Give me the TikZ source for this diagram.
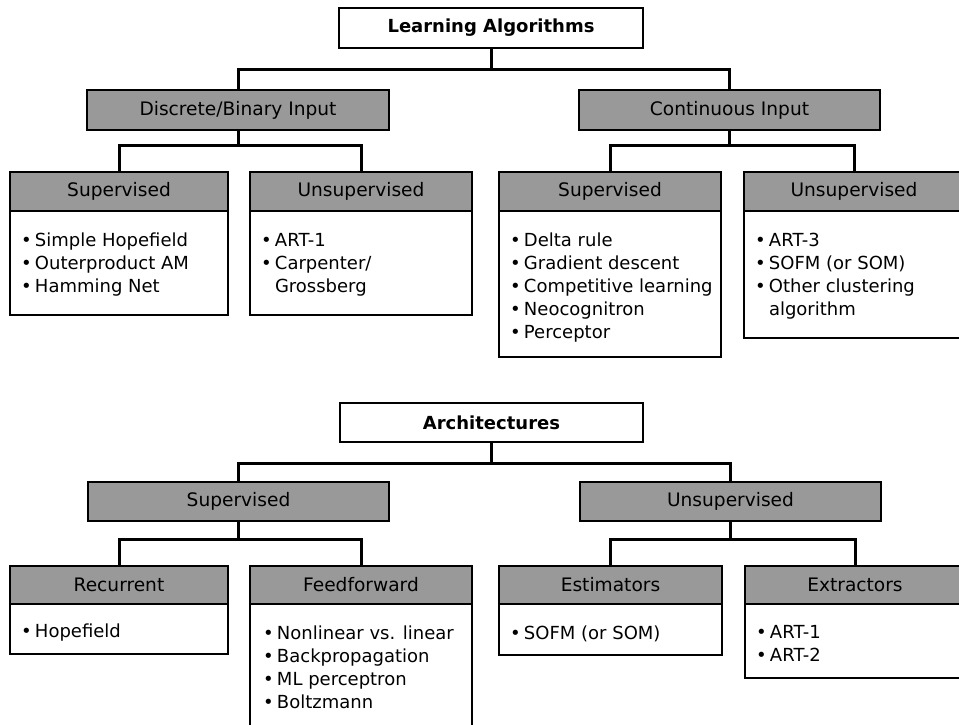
\documentclass[tikz,border=0pt]{standalone}
\usepackage{fontspec}
\setmainfont{DejaVu Sans}
\usetikzlibrary{calc}
\definecolor{hdrgray}{gray}{0.6}
\newcommand{\bulletmark}{\makebox[14pt][l]{\textbullet}}
\newcommand{\bulletgap}{\makebox[14pt][l]{}}
\newcommand{\itemlist}[1]{\begin{tabular}[t]{@{}l@{}}#1\end{tabular}}
\begin{document}
\begin{tikzpicture}[x=1pt,y=-1pt,
  every node/.style={inner sep=0pt, outer sep=0pt},
  txt/.style={font=\fontsize{18}{23}\selectfont},
  titlebox/.style={draw, line width=1.3pt, fill=white, minimum height=40pt,
    font=\fontsize{18}{23}\selectfont\bfseries},
  hdr/.style={draw, line width=1.4pt, fill=hdrgray, font=\fontsize{18.6}{23}\selectfont},
  body/.style={draw, line width=1.3pt, fill=white, anchor=north},
  items/.style={anchor=base west, txt},
  conn/.style={line width=3pt}]
\clip (0,0) rectangle (959,725);
\fill[white] (0,0) rectangle (959,725);

% ---------------- Learning algorithms ----------------
\node[titlebox, minimum width=304pt] (learn) at (491,28) {Learning Algorithms};
\node[hdr, minimum width=302pt, minimum height=40pt] (disc) at (238,110) {Discrete/Binary Input};
\node[hdr, minimum width=301pt, minimum height=40pt] (cont) at (729.5,110) {Continuous Input};

\node[hdr, minimum width=218pt, minimum height=39pt] (s1) at (119,191.5) {Supervised};
\node[hdr, minimum width=222pt, minimum height=39pt] (u1) at (361,191.5) {Unsupervised};
\node[hdr, minimum width=222pt, minimum height=39pt] (s2) at (610,191.5) {Supervised};
\node[hdr, minimum width=220pt, minimum height=39pt] (u2) at (854,191.5) {Unsupervised};

\node[body, minimum width=218pt, minimum height=104pt] (s1b) at (s1.south) {};
\node[body, minimum width=222pt, minimum height=104pt] (u1b) at (u1.south) {};
\node[body, minimum width=222pt, minimum height=146pt] (s2b) at (s2.south) {};
\node[body, minimum width=220pt, minimum height=127pt] (u2b) at (u2.south) {};

\node[items] (s1t) at ($(s1b.north west)+(11,35)$) {\itemlist{%
  \bulletmark Simple Hopefield\\ \bulletmark Outerproduct AM\\ \bulletmark Hamming Net}};
\node[items] (u1t) at ($(u1b.north west)+(11,35)$) {\itemlist{%
  \bulletmark ART-1\\ \bulletmark Carpenter/\\ \bulletgap Grossberg}};
\node[items] (s2t) at ($(s2b.north west)+(11,35)$) {\itemlist{%
  \bulletmark Delta rule\\ \bulletmark Gradient descent\\ \bulletmark Competitive learning\\
  \bulletmark Neocognitron\\ \bulletmark Perceptor}};
\node[items] (u2t) at ($(u2b.north west)+(11,35)$) {\itemlist{%
  \bulletmark ART-3\\ \bulletmark SOFM (or SOM)\\ \bulletmark Other clustering\\
  \bulletgap algorithm}};

\draw[conn] (learn.south) -- (learn.south |- 0,70);
\draw[conn] (disc.north) |- (cont.north |- 0,70) -- (cont.north);
\draw[conn] (disc.south) -- (disc.south |- 0,145);
\draw[conn] (s1.north) |- (u1.north |- 0,145) -- (u1.north);
\draw[conn] (cont.south) -- (cont.south |- 0,145);
\draw[conn] (s2.north) |- (u2.north |- 0,145) -- (u2.north);

% ---------------- Architectures ----------------
\node[titlebox, minimum width=303pt, minimum height=39pt] (arch) at (491.5,422.5) {Architectures};
\node[hdr, minimum width=301pt, minimum height=39pt] (sup) at (238.5,501.5) {Supervised};
\node[hdr, minimum width=301pt, minimum height=39pt] (uns) at (730.5,501.5) {Unsupervised};

\node[hdr, minimum width=218pt, minimum height=38pt] (rec) at (119,585) {Recurrent};
\node[hdr, minimum width=222pt, minimum height=38pt] (ff) at (361,585) {Feedforward};
\node[hdr, minimum width=223pt, minimum height=38pt] (est) at (610.5,585) {Estimators};
\node[hdr, minimum width=220pt, minimum height=38pt] (ext) at (855,585) {Extractors};

\node[body, minimum width=218pt, minimum height=50pt] (recb) at (rec.south) {};
\node[body, minimum width=222pt, minimum height=140pt] (ffb) at (ff.south) {};
\node[body, minimum width=223pt, minimum height=51pt] (estb) at (est.south) {};
\node[body, minimum width=220pt, minimum height=74pt] (extb) at (ext.south) {};

\node[items] (rect) at ($(recb.north west)+(11,33)$) {\itemlist{\bulletmark Hopefield}};
\node[items] (fft) at ($(ffb.north west)+(13,35)$) {\itemlist{%
  \bulletmark Nonlinear vs. linear\\ \bulletmark Backpropagation\\ \bulletmark ML perceptron\\
  \bulletmark Boltzmann}};
\node[items] (estt) at ($(estb.north west)+(11,35)$) {\itemlist{\bulletmark SOFM (or SOM)}};
\node[items] (extt) at ($(extb.north west)+(11,34)$) {\itemlist{%
  \bulletmark ART-1\\ \bulletmark ART-2}};

\draw[conn] (arch.south) -- (arch.south |- 0,463);
\draw[conn] (sup.north) |- (uns.north |- 0,463) -- (uns.north);
\draw[conn] (sup.south) -- (sup.south |- 0,539);
\draw[conn] (rec.north) |- (ff.north |- 0,539) -- (ff.north);
\draw[conn] (uns.south) -- (uns.south |- 0,539);
\draw[conn] (est.north) |- (ext.north |- 0,539) -- (ext.north);
\end{tikzpicture}
\end{document}
